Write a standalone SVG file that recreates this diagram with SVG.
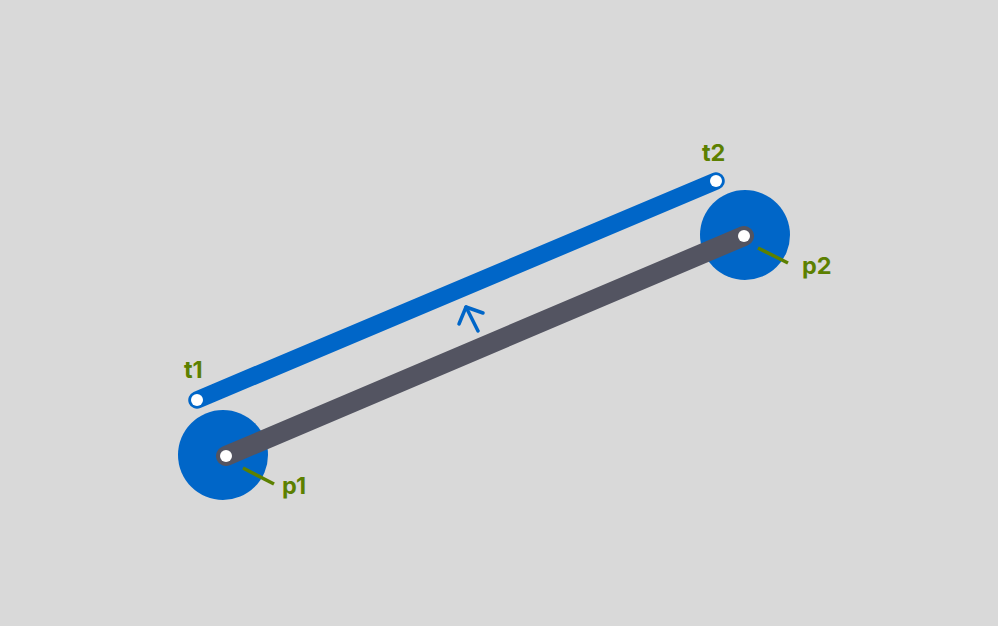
<svg xmlns="http://www.w3.org/2000/svg" width="998" height="626" viewBox="0 0 998 626">
<style>
.lbl{font-family:Inter,"Liberation Sans",sans-serif;font-weight:700;font-size:23.5px;fill:#5c8000}
.tick{stroke:#5c8000;stroke-width:3.5;stroke-linecap:butt}
.dot{fill:#ffffff}
</style>
<rect width="998" height="626" fill="#d9d9d9"/>
<g id="p1-joint"><circle cx="223" cy="455" r="45" fill="#0066c8"/></g>
<g id="p2-joint"><circle cx="745" cy="235" r="45" fill="#0066c8"/></g>
<g id="connectors">
<line x1="197" y1="400" x2="716" y2="181" stroke="#0066c8" stroke-width="17.5" stroke-linecap="round"/>
<line x1="226" y1="456" x2="744" y2="236" stroke="#535461" stroke-width="20" stroke-linecap="round"/>
<polyline points="459,324 466,307 483,313" fill="none" stroke="#0066c8" stroke-width="3.5" stroke-linecap="round" stroke-linejoin="round"/>
<line x1="478" y1="331" x2="466" y2="307" stroke="#0066c8" stroke-width="3.5" stroke-linecap="round"/>
<line class="tick" x1="243" y1="468" x2="274" y2="484"/>
<line class="tick" x1="758" y1="248" x2="788" y2="263"/>
</g>
<g id="t1"><circle class="dot" cx="197" cy="400" r="6"/><text class="lbl" x="184" y="378">t1</text></g>
<g id="t2"><circle class="dot" cx="716" cy="181" r="6"/><text class="lbl" x="702" y="161">t2</text></g>
<g id="p1"><circle class="dot" cx="226" cy="456" r="6"/><text class="lbl" x="282" y="494">p1</text></g>
<g id="p2"><circle class="dot" cx="744" cy="236" r="6"/><text class="lbl" x="802" y="274">p2</text></g>
</svg>
